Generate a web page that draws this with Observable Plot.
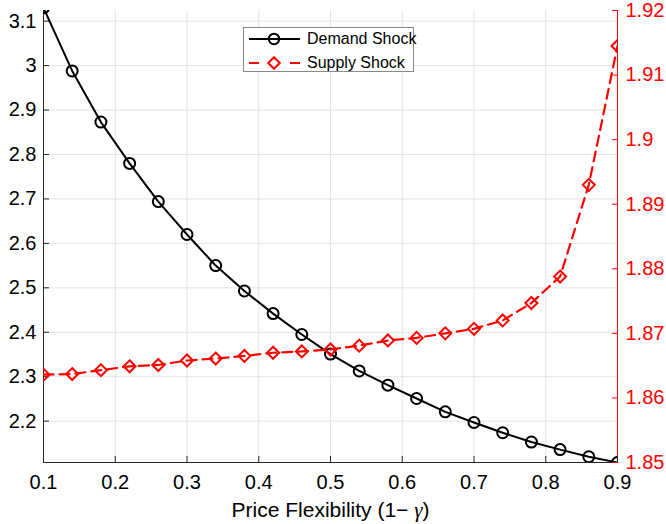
<!DOCTYPE html>
<html><head><meta charset="utf-8">
<script src="https://cdn.jsdelivr.net/npm/d3@7"></script>
<script src="https://cdn.jsdelivr.net/npm/@observablehq/plot@0.6"></script>
<style>
body{margin:0;background:#fff;}
#wrap{position:relative;width:666px;height:524px;font-family:"Liberation Sans",Arial,Helvetica,sans-serif;}
#legend{position:absolute;left:243px;top:27px;width:171px;height:45px;border:1px solid #8a8a8a;background:#fff;box-sizing:border-box;}
.row{position:absolute;left:0;height:22px;display:flex;align-items:center;font-size:16px;color:#000;white-space:nowrap;}
.row svg{display:block;margin-right:3px;}
</style></head><body><div id="wrap"></div>
<script>
// ---- data ----
const xValues = [0.10,0.14,0.18,0.22,0.26,0.30,0.34,0.38,0.42,0.46,0.50,0.54,0.58,0.62,0.66,0.70,0.74,0.78,0.82,0.86,0.90];
const demandValues = [3.13,2.988,2.873,2.78,2.694,2.62,2.55,2.493,2.442,2.395,2.351,2.313,2.281,2.251,2.221,2.197,2.174,2.153,2.136,2.12,2.107];
const supplyValues = [1.8636,1.8637,1.8643,1.8649,1.8651,1.8658,1.8661,1.8665,1.8670,1.8672,1.8675,1.8681,1.8689,1.8693,1.8700,1.8707,1.8720,1.8747,1.8788,1.8930,1.9145];
const xTicks = [0.1,0.2,0.3,0.4,0.5,0.6,0.7,0.8,0.9];
const leftTicks = [2.2,2.3,2.4,2.5,2.6,2.7,2.8,2.9,3.0,3.1];
const rightTicks = [1.85,1.86,1.87,1.88,1.89,1.90,1.91,1.92];
const seriesNames = ["Demand Shock","Supply Shock"];
const xLabel = "Price Flexibility (1\u2212\u03b3)";
const leftDomain = [2.107, 3.124];
const rightDomain = [1.85, 1.92];

// map right-axis values into the left scale's domain
const toLeft = v => leftDomain[0] + (v - rightDomain[0]) / (rightDomain[1] - rightDomain[0]) * (leftDomain[1] - leftDomain[0]);
const fromLeft = v => rightDomain[0] + (v - leftDomain[0]) / (leftDomain[1] - leftDomain[0]) * (rightDomain[1] - rightDomain[0]);

const demand = xValues.map((x, i) => ({x, y: demandValues[i]}));
const supply = xValues.map((x, i) => ({x, y: toLeft(supplyValues[i])}));

const font = '"Liberation Sans",Arial,Helvetica,sans-serif';
const axisColor = "#262626";

const chart = Plot.plot({
  width: 666, height: 524,
  marginLeft: 43, marginRight: 49, marginTop: 10, marginBottom: 62,
  style: {fontFamily: font, fontSize: "20px", background: "white", color: axisColor, overflow: "visible"},
  x: {domain: [0.1, 0.9]},
  y: {domain: leftDomain},
  marks: [
    Plot.gridX(xTicks, {stroke: "#e3e3e3", strokeOpacity: 1}),
    Plot.gridY(leftTicks, {stroke: "#e3e3e3", strokeOpacity: 1}),
    Plot.ruleX([0.1], {stroke: axisColor}),
    Plot.ruleY([leftDomain[0]], {stroke: axisColor}),
    Plot.ruleX([0.9], {stroke: "red"}),
    Plot.axisX(xTicks, {tickSize: -6, tickPadding: 18, stroke: axisColor, fill: "#000", fontSize: 20, label: null,
      tickFormat: d => String(d)}),
    Plot.axisY(leftTicks, {anchor: "left", tickSize: -6, tickPadding: 13, stroke: axisColor, fill: "#000", fontSize: 20, label: null,
      tickFormat: d => String(d)}),
    Plot.axisY(rightTicks.map(toLeft), {anchor: "right", tickSize: -6, tickPadding: 14, stroke: "red", fill: "red", fontSize: 20, label: null,
      tickFormat: d => String(Math.round(fromLeft(d) * 100) / 100)}),
    Plot.line(demand, {x: "x", y: "y", stroke: "#000", strokeWidth: 2, clip: true}),
    Plot.dot(demand, {x: "x", y: "y", r: 5.5, stroke: "#000", strokeWidth: 2, fill: "none", clip: true}),
    Plot.line(supply, {x: "x", y: "y", stroke: "red", strokeWidth: 2.2, strokeDasharray: "10,6", clip: true}),
    Plot.dot(supply, {x: "x", y: "y", r: 5.4, symbol: "diamond2", stroke: "red", strokeWidth: 2, fill: "none", clip: true}),
    Plot.text([xLabel], {text: d => d, frameAnchor: "bottom", dy: 48, lineAnchor: "middle", fontSize: 21, fill: "#000"})
  ]
});

document.getElementById("wrap").appendChild(chart);

// italic gamma in the axis label
d3.select(chart).selectAll("text").filter(function(){ return this.textContent === xLabel; }).each(function(){
  const t = d3.select(this);
  t.text(null);
  t.append("tspan").text("Price Flexibility (1\u2212 ");
  t.append("tspan").attr("font-family", '"Liberation Serif","Times New Roman",serif').attr("font-style", "italic").text("\u03b3");
  t.append("tspan").text(")");
});

// legend
const legend = d3.select("#wrap").append("div").attr("id", "legend");
const styles = [
  {color: "#000", dashed: false, symbol: d3.symbolCircle},
  {color: "red", dashed: true, symbol: d3.symbolDiamond2}
];
seriesNames.forEach((name, i) => {
  const row = legend.append("div").attr("class", "row").style("top", (i === 0 ? 0 : 24) + "px");
  const svg = row.append("svg").attr("width", 60).attr("height", 22);
  const s = styles[i];
  if (s.dashed) {
    svg.append("path").attr("d", "M5,11H15M46,11H56").attr("stroke", s.color).attr("stroke-width", 2.2);
  } else {
    svg.append("path").attr("d", "M5,11H56").attr("stroke", s.color).attr("stroke-width", 2);
  }
  svg.append("path").attr("transform", "translate(30,11)")
    .attr("d", d3.symbol(s.symbol, Math.PI * 5.2 * 5.2)())
    .attr("stroke", s.color).attr("stroke-width", 2).attr("fill", i === 0 ? "none" : "white");
  row.append("span").text(name);
});
</script>
</body></html>
